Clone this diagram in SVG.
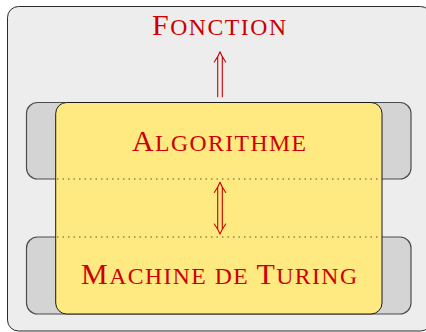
<svg xmlns="http://www.w3.org/2000/svg" width="426" height="332" viewBox="0 0 426 332">
<style>
.outer{fill:#ededed;stroke:#2a2a2a;stroke-width:1}
.side{fill:#d4d4d4;stroke:#4d4d4d;stroke-width:1.2}
.core{fill:#ffe981;stroke:#1a1a1a;stroke-width:1}
.dot{stroke:#444;stroke-width:0.9;stroke-dasharray:1.5 4;fill:none}
.lbl{font-family:"Liberation Serif","Times New Roman",serif;fill:#cc0000}
.big{font-size:30px}
.sc{font-size:23.7px}
.arr{stroke:#cc0000;stroke-width:1.1;fill:none;stroke-linecap:round;stroke-linejoin:round}
</style>
<rect class="outer" x="7.5" y="6.5" width="424" height="324.5" rx="11"/>
<g id="sideTop"><rect class="side" x="26.5" y="102.5" width="384.5" height="76.5" rx="11"/></g>
<g id="sideBottom"><rect class="side" x="26.5" y="237" width="384.5" height="77" rx="11"/></g>
<g id="core"><rect class="core" x="55.7" y="102.5" width="326.3" height="211.5" rx="11"/>
<line class="dot" x1="57" y1="179" x2="381" y2="179"/>
<line class="dot" x1="57" y1="237" x2="381" y2="237"/></g>
<g id="fonction"><text class="lbl" x="152" y="34.7" textLength="134" lengthAdjust="spacing"><tspan class="big">F</tspan><tspan class="sc">ONCTION</tspan></text></g>
<g id="algorithme"><text class="lbl" x="132" y="151.3" textLength="174" lengthAdjust="spacing"><tspan class="big">A</tspan><tspan class="sc">LGORITHME</tspan></text></g>
<g id="machine"><text class="lbl" x="81" y="284.3" textLength="276" lengthAdjust="spacing"><tspan class="big">M</tspan><tspan class="sc">ACHINE DE </tspan><tspan class="big">T</tspan><tspan class="sc">URING</tspan></text></g>
<g id="connectors">
<path class="arr" d="M217.7,96.7 V56.5 M222.3,96.7 V56.5 M214.3,62 Q218.5,56 220,51.7 Q221.5,56 225.7,62"/>
<path class="arr" d="M217.7,187 V229.5 M222.3,187 V229.5 M214.3,192.5 Q218.5,186.5 220,182.3 Q221.5,186.5 225.7,192.5 M214.3,224 Q218.5,230 220,234 Q221.5,230 225.7,224"/>
</g>
</svg>
